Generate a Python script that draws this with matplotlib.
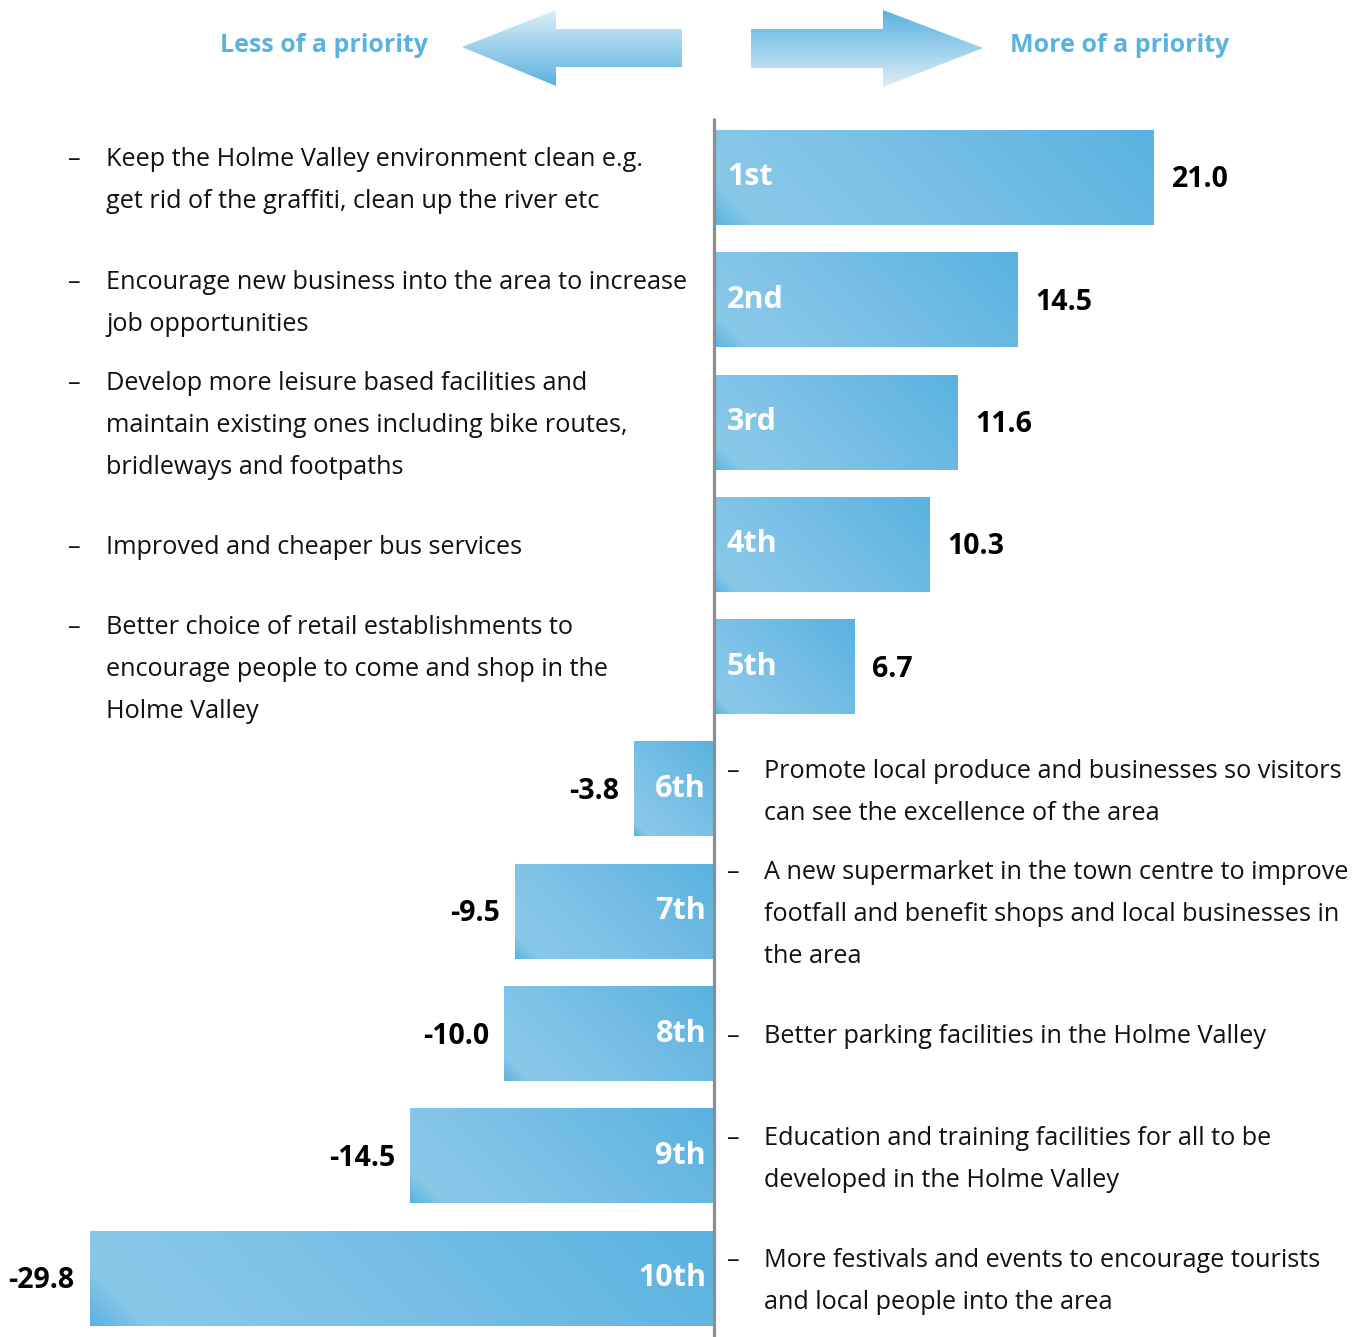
import numpy as np
import matplotlib.pyplot as plt
from matplotlib.colors import LinearSegmentedColormap
from matplotlib.patches import Polygon

plt.rcParams['font.family'] = ['Open Sans', 'DejaVu Sans']

# priority scores, best first
ranks = ['1st', '2nd', '3rd', '4th', '5th', '6th', '7th', '8th', '9th', '10th']
scores = [21.0, 14.5, 11.6, 10.3, 6.7, -3.8, -9.5, -10.0, -14.5, -29.8]
priorities = [
    ['Keep the Holme Valley environment clean e.g.',
     'get rid of the graffiti, clean up the river etc'],
    ['Encourage new business into the area to increase',
     'job opportunities'],
    ['Develop more leisure based facilities and',
     'maintain existing ones including bike routes,',
     'bridleways and footpaths'],
    ['Improved and cheaper bus services'],
    ['Better choice of retail establishments to',
     'encourage people to come and shop in the',
     'Holme Valley'],
    ['Promote local produce and businesses so visitors',
     'can see the excellence of the area'],
    ['A new supermarket in the town centre to improve',
     'footfall and benefit shops and local businesses in',
     'the area'],
    ['Better parking facilities in the Holme Valley'],
    ['Education and training facilities for all to be',
     'developed in the Holme Valley'],
    ['More festivals and events to encourage tourists',
     'and local people into the area'],
]

blue = '#5ab2e0'
bar_cmap = LinearSegmentedColormap.from_list(
    'bars', [(0.0, blue), (0.08, '#88c8e9'), (0.3, '#82c4e8'), (1.0, blue)])
up_cmap = LinearSegmentedColormap.from_list('up', ['#dcedf8', blue])

fig = plt.figure(figsize=(13.62, 13.37), dpi=100)
ax = fig.add_axes([0, 0, 1, 1])
ax.set_xlim(-34.08, 30.93)
ax.set_ylim(9.481, -1.451)
ax.axis('off')

rows = np.arange(len(scores))
bars = ax.barh(rows, scores, height=0.777, color='none', zorder=2)

# 45 degree gradient (screen space) from bottom-left to top-right of each bar
to_px = ax.transData
for rect in bars:
    xa, ya = rect.get_x(), rect.get_y()
    xb, yb = xa + rect.get_width(), ya + rect.get_height()
    x0, x1 = min(xa, xb), max(xa, xb)
    y0, y1 = min(ya, yb), max(ya, yb)
    (px0, py0), (px1, py1) = to_px.transform([(x0, y0), (x1, y1)])
    W, H = abs(px1 - px0), abs(py1 - py0)
    u = np.linspace(0, W, 300)
    w = np.linspace(H, 0, 80)  # height above the bar's lower edge, top row first
    t = (u[None, :] + w[:, None]) / (W + H)
    im = ax.imshow(t, cmap=bar_cmap, vmin=0, vmax=1, aspect='auto',
                   extent=(x0, x1, y1, y0), zorder=1, interpolation='bilinear')
    im.set_clip_path(rect)

ax.plot([0, 0], [-0.487, 9.481], color='#8e8e8e', lw=2.3, zorder=3,
        solid_capstyle='butt')

line_step = 0.3434
for i, (rank, val, lines) in enumerate(zip(ranks, scores, priorities)):
    if val > 0:
        ax.text(0.62, i, rank, color='white', fontsize=22, fontweight='bold',
                ha='left', va='center', zorder=4)
        ax.text(val + 0.86, i + 0.02, f'{val:.1f}', color='black', fontsize=20.5,
                fontweight='bold', ha='left', va='center', zorder=4)
        dash_x, text_x = -30.84, -29.02
    else:
        ax.text(-0.38, i, rank, color='white', fontsize=22, fontweight='bold',
                ha='right', va='center', zorder=4)
        ax.text(val - 0.72, i + 0.02, f'{val:.1f}', color='black', fontsize=20.5,
                fontweight='bold', ha='right', va='center', zorder=4)
        dash_x, text_x = 0.62, 2.39
    n = len(lines)
    for k, line in enumerate(lines):
        y = i + (k - (n - 1) / 2) * line_step + 0.08
        if k == 0:
            ax.text(dash_x, y, '\u2013', fontsize=18.2, ha='left', va='baseline',
                    color='#111111')
        ax.text(text_x, y, line, fontsize=18.2, ha='left', va='baseline',
                color='#111111')

# header arrows in pixel space
hx = fig.add_axes([0, 0, 1, 1])
hx.set_xlim(0, 1362)
hx.set_ylim(1337, 0)
hx.axis('off')

left_arrow = Polygon([(462, 47), (556, 10), (556, 29), (682, 29), (682, 67),
                      (556, 67), (556, 86)], closed=True, fc='none', ec='none')
right_arrow = Polygon([(751, 29), (883, 29), (883, 10), (983, 48), (883, 87),
                       (883, 68), (751, 68)], closed=True, fc='none', ec='none')
grad = np.linspace(0, 1, 100)[:, None]
for poly, g in [(left_arrow, grad), (right_arrow, grad[::-1])]:
    hx.add_patch(poly)
    (bx0, by0), (bx1, by1) = poly.get_xy().min(axis=0), poly.get_xy().max(axis=0)
    im = hx.imshow(g, cmap=up_cmap, aspect='auto', extent=(bx0, bx1, by1, by0),
                   interpolation='bilinear')
    im.set_clip_path(poly)
hx.set_xlim(0, 1362)
hx.set_ylim(1337, 0)

hx.text(324, 45, 'Less of a priority', color=blue, fontsize=18,
        fontweight='bold', ha='center', va='center')
hx.text(1120, 45, 'More of a priority', color=blue, fontsize=18,
        fontweight='bold', ha='center', va='center')

fig.savefig('out.png', dpi=100)
